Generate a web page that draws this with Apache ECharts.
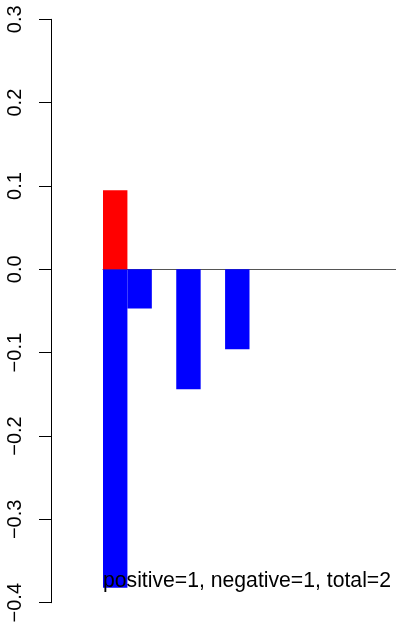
<!DOCTYPE html>
<html>
<head>
<meta charset="utf-8">
<script src="https://cdn.jsdelivr.net/npm/echarts@6/dist/echarts.min.js"></script>
<style>
html,body{margin:0;padding:0;background:#fff;}
#c{width:396px;height:626px;}
</style>
</head>
<body>
<div id="c"></div>
<script>
var categories = ['1','2','3','4','5','6','7','8','9','10','11','12'];
var positiveValues = [0.095, null, null, null, null, null, null, null, null, null, null, null];
var negativeValues = [-0.382, -0.047, null, -0.144, null, -0.096, null, null, null, null, null, null];
var yTicks = {min: -0.4, max: 0.3, interval: 0.1};
var note = 'positive=1, negative=1, total=2';

var chart = echarts.init(document.getElementById('c'));
chart.setOption({
  animation: false,
  backgroundColor: '#ffffff',
  grid: {left: 103, right: 0, top: 19.3, bottom: 23.3, containLabel: false},
  xAxis: {
    type: 'category',
    data: categories,
    boundaryGap: true,
    axisLine: {show: true, onZero: true, lineStyle: {color: '#555555', width: 1}},
    axisTick: {show: false},
    axisLabel: {show: false},
    splitLine: {show: false}
  },
  yAxis: {
    type: 'value',
    min: yTicks.min,
    max: yTicks.max,
    interval: yTicks.interval,
    offset: 52,
    axisLine: {show: true, lineStyle: {color: '#000000', width: 1}},
    axisTick: {show: true, length: 12, lineStyle: {color: '#000000', width: 1}},
    axisLabel: {
      show: true,
      rotate: 90,
      margin: 26,
      color: '#000000',
      fontSize: 20,
      fontFamily: 'Liberation Sans, Arial, sans-serif',
      formatter: function (v) { return v.toFixed(1).replace('-', '\u2212'); }
    },
    splitLine: {show: false}
  },
  series: [
    {
      type: 'bar',
      data: negativeValues,
      barCategoryGap: '0%',
      barGap: '-100%',
      itemStyle: {color: '#0000ff'},
      z: 2
    },
    {
      type: 'bar',
      data: positiveValues,
      barCategoryGap: '0%',
      barGap: '-100%',
      itemStyle: {color: '#ff0000'},
      z: 2
    }
  ],
  graphic: [{
    type: 'text',
    left: 103,
    top: 571,
    z: 100,
    style: {
      text: note,
      fill: '#000000',
      fontSize: 21.2,
      fontFamily: 'Liberation Sans, Arial, sans-serif'
    }
  }]
});
</script>
</body>
</html>
